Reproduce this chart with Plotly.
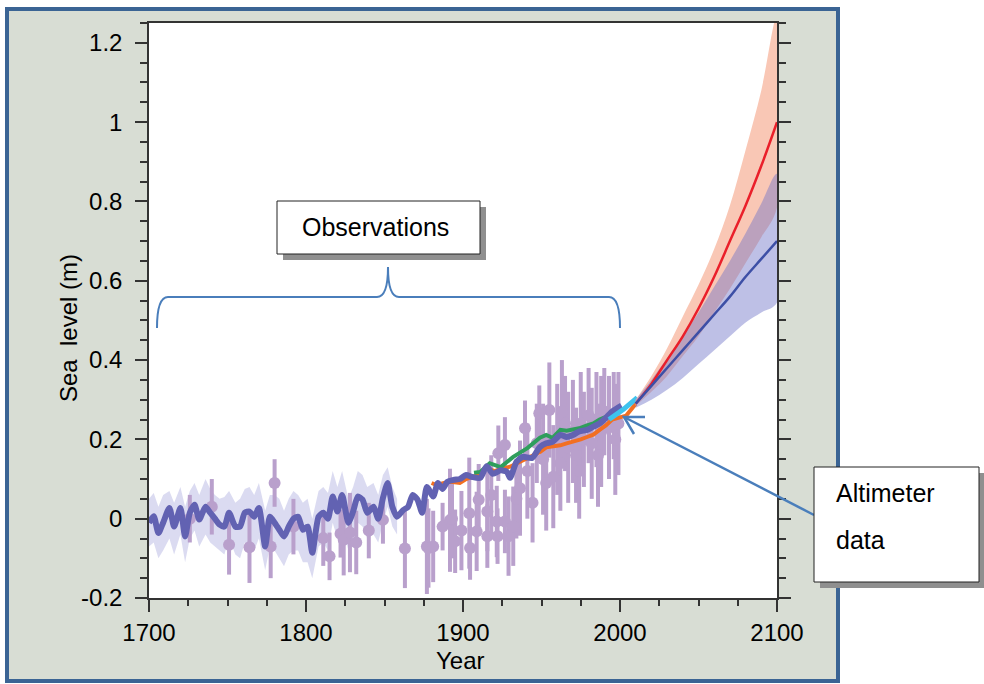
import plotly.graph_objects as go

# ---------------- data ----------------
recon_years = [1700, 1703, 1706, 1709, 1713, 1716, 1720, 1723, 1726, 1729,
               1732, 1736, 1739, 1742, 1745, 1748, 1751, 1755, 1758, 1761,
               1764, 1767, 1770, 1774, 1777, 1780, 1783, 1786, 1789, 1792,
               1795, 1798, 1801, 1804, 1808, 1811, 1814, 1817, 1820, 1823,
               1827, 1830, 1833, 1836, 1839, 1843, 1846, 1849, 1852, 1855,
               1858, 1862, 1865, 1868, 1871, 1874, 1877, 1881, 1884, 1887,
               1890, 1894, 1898, 1902, 1906, 1911, 1915, 1919, 1924, 1928,
               1930, 1934, 1938, 1944, 1949, 1953, 1957, 1962, 1966, 1970,
               1974, 1979, 1983, 1987, 1991, 1995, 2001]
recon_vals = [-0.01, 0.006, -0.036, -0.01, 0.027, -0.02, 0.027, -0.045, 0.015, 0.035,
              -0.002, 0.03, 0.015, 0.0, -0.015, -0.02, 0.015, -0.02, -0.02, 0.015,
              0.018, 0.005, 0.027, -0.07, 0.005, -0.01, -0.028, -0.045, -0.02, 0.0,
              0.005, -0.028, -0.02, -0.086, 0.005, 0.015, 0.0, 0.056, 0.018, 0.06,
              -0.01, 0.018, 0.056, 0.048, 0.015, 0.03, 0.0, 0.052, 0.09, 0.03,
              0.005, 0.022, 0.03, 0.06, 0.048, 0.015, 0.08, 0.056, 0.09, 0.075,
              0.093, 0.098, 0.1, 0.11, 0.105, 0.103, 0.132, 0.113, 0.122, 0.118,
              0.103, 0.143, 0.156, 0.153, 0.181, 0.19, 0.194, 0.211, 0.206, 0.211,
              0.22, 0.224, 0.232, 0.24, 0.254, 0.27, 0.285]

band_years = recon_years[:51]
band_hi = [0.05, 0.065, 0.03, 0.06, 0.07, 0.04, 0.08, 0.03, 0.07, 0.09,
           0.06, 0.1, 0.075, 0.06, 0.05, 0.055, 0.07, 0.04, 0.05, 0.075,
           0.08, 0.06, 0.09, 0.02, 0.06, 0.06, 0.05, 0.02, 0.05, 0.07,
           0.06, 0.04, 0.05, 0.0, 0.07, 0.08, 0.065, 0.12, 0.08, 0.12,
           0.05, 0.08, 0.12, 0.11, 0.08, 0.09, 0.06, 0.11, 0.13, 0.08, 0.05]
band_lo = [-0.07, -0.06, -0.1, -0.08, -0.05, -0.09, -0.04, -0.11, -0.05, -0.03,
           -0.07, -0.04, -0.06, -0.07, -0.08, -0.09, -0.05, -0.09, -0.1, -0.06,
           -0.08, -0.08, -0.05, -0.13, -0.07, -0.08, -0.1, -0.12, -0.09, -0.08,
           -0.08, -0.11, -0.11, -0.15, -0.07, -0.06, -0.08, -0.01, -0.05, -0.01,
           -0.08, -0.05, -0.01, -0.02, -0.05, -0.04, -0.06, -0.01, 0.03, -0.02, -0.04]

obs_years = [1726, 1740, 1751, 1764, 1777.5, 1780, 1792, 1811, 1815, 1822,
             1824, 1828, 1832, 1840, 1849, 1863, 1877, 1878, 1881, 1887,
             1891.7, 1893, 1895, 1899, 1904, 1904.5, 1908.7, 1910, 1915.5, 1915.5,
             1918, 1921.5, 1922, 1922.5, 1926.7, 1926.7, 1929, 1932, 1934, 1936.3,
             1939.5, 1941, 1944.3, 1947, 1948.6, 1951, 1955, 1957.5, 1960, 1962,
             1965, 1967, 1970, 1972, 1975, 1977, 1980, 1982, 1985, 1988,
             1990, 1993, 1996, 1999, 1953, 1963, 1974, 1986, 1997]
obs_vals = [0.0, 0.03, -0.066, -0.072, -0.07, 0.09, -0.02, -0.049, -0.095, -0.038,
            -0.053, -0.035, -0.06, -0.03, -0.003, -0.075, -0.07, -0.074, -0.07, -0.02,
            -0.004, 0.0, -0.057, -0.03, 0.014, -0.074, -0.032, 0.048, 0.018, -0.044,
            0.06, -0.007, -0.044, 0.165, 0.186, -0.007, -0.044, -0.019, 0.05, 0.077,
            0.228, 0.12, 0.04, 0.19, 0.266, 0.15, 0.274, 0.106, 0.2, 0.14,
            0.24, 0.18, 0.22, 0.16, 0.24, 0.2, 0.26, 0.19, 0.25, 0.22,
            0.27, 0.23, 0.26, 0.24, 0.09, 0.27, 0.12, 0.16, 0.2]
obs_errs = [0.06, 0.07, 0.075, 0.09, 0.08, 0.06, 0.07, 0.07, 0.06, 0.06,
            0.09, 0.1, 0.08, 0.07, 0.06, 0.1, 0.12, 0.1, 0.09, 0.06,
            0.13, 0.1, 0.08, 0.1, 0.14, 0.08, 0.1, 0.09, 0.1, 0.08,
            0.1, 0.09, 0.07, 0.07, 0.07, 0.08, 0.1, 0.1, 0.1, 0.12,
            0.07, 0.12, 0.1, 0.1, 0.07, 0.14, 0.12, 0.13, 0.14, 0.12,
            0.12, 0.14, 0.13, 0.12, 0.13, 0.12, 0.12, 0.14, 0.12, 0.14,
            0.11, 0.13, 0.11, 0.13, 0.12, 0.13, 0.12, 0.13, 0.14]

green_years = [1907, 1911, 1917, 1924, 1932, 1941, 1949, 1953, 1957, 1962,
               1966, 1970, 1974, 1979, 1983, 1987, 1991, 1993]
green_vals = [0.116, 0.118, 0.14, 0.13, 0.156, 0.178, 0.204, 0.211, 0.204, 0.224,
              0.222, 0.224, 0.228, 0.235, 0.24, 0.25, 0.257, 0.26]

orange_years = [1880, 1883, 1888, 1892, 1898, 1902, 1906, 1911, 1915, 1920,
                1924, 1930, 1936, 1940, 1945, 1949, 1953, 1958, 1962, 1966,
                1970, 1975, 1979, 1983, 1987, 1991, 1995, 2000, 2004, 2008, 2010]
orange_vals = [0.09, 0.085, 0.09, 0.093, 0.09, 0.1, 0.106, 0.11, 0.128, 0.12,
               0.125, 0.131, 0.143, 0.15, 0.16, 0.168, 0.18, 0.182, 0.185, 0.19,
               0.194, 0.2, 0.206, 0.212, 0.224, 0.235, 0.25, 0.255, 0.26, 0.28, 0.29]

cyan_years = [1993, 1996, 1999, 2002, 2005, 2008, 2011]
cyan_vals = [0.25, 0.258, 0.265, 0.275, 0.285, 0.295, 0.305]

proj_years = [2010, 2020, 2030, 2040, 2050, 2060, 2070, 2080, 2090, 2100]
red_mid = [0.29, 0.34, 0.40, 0.46, 0.53, 0.61, 0.70, 0.79, 0.89, 1.00]
red_hi = [0.30, 0.36, 0.43, 0.51, 0.59, 0.68, 0.79, 0.93, 1.08, 1.27]
red_lo = [0.285, 0.32, 0.36, 0.41, 0.46, 0.52, 0.58, 0.645, 0.71, 0.785]
blue_mid = [0.29, 0.335, 0.38, 0.425, 0.47, 0.515, 0.56, 0.61, 0.655, 0.70]
blue_hi = [0.30, 0.35, 0.405, 0.46, 0.52, 0.585, 0.65, 0.72, 0.795, 0.87]
blue_lo = [0.28, 0.30, 0.325, 0.355, 0.39, 0.425, 0.46, 0.495, 0.52, 0.545]

x_tickvals = [1700, 1800, 1900, 2000, 2100]
y_tickvals = [-0.2, 0, 0.2, 0.4, 0.6, 0.8, 1, 1.2]
y_ticktext = ["-0.2", "0", "0.2", "0.4", "0.6", "0.8", "1", "1.2"]

# ---------------- figure ----------------
FONT = "Arial, Liberation Sans, sans-serif"
fig = go.Figure()

fig.add_trace(go.Scatter(x=band_years + band_years[::-1], y=band_hi + band_lo[::-1],
                         fill="toself", fillcolor="rgba(175,175,225,0.45)",
                         line=dict(width=0), hoverinfo="skip", mode="lines"))
fig.add_trace(go.Scatter(x=obs_years, y=obs_vals, mode="markers",
                         marker=dict(color="#b9a0cc", size=12),
                         error_y=dict(type="data", array=obs_errs, color="#b9a0cc",
                                      thickness=4, width=0)))
fig.add_trace(go.Scatter(x=orange_years, y=orange_vals, mode="lines",
                         line=dict(color="#f26f22", width=4)))
fig.add_trace(go.Scatter(x=green_years, y=green_vals, mode="lines",
                         line=dict(color="#2f9e5c", width=4)))
fig.add_trace(go.Scatter(x=recon_years, y=recon_vals, mode="lines",
                         line=dict(color="#6262b2", width=6, shape="spline", smoothing=0.6)))
fig.add_trace(go.Scatter(x=cyan_years, y=cyan_vals, mode="lines",
                         line=dict(color="#3ec3ee", width=5)))

fig.add_trace(go.Scatter(x=proj_years + proj_years[::-1], y=red_hi + red_lo[::-1],
                         fill="toself", fillcolor="#f9c7b5", line=dict(width=0),
                         line_shape="spline", mode="lines"))
fig.add_trace(go.Scatter(x=proj_years + proj_years[::-1], y=blue_hi + blue_lo[::-1],
                         fill="toself", fillcolor="rgba(110,115,200,0.45)", line=dict(width=0),
                         line_shape="spline", mode="lines"))
fig.add_trace(go.Scatter(x=proj_years, y=red_mid, mode="lines",
                         line=dict(color="#ea1f2a", width=2.5, shape="spline")))
fig.add_trace(go.Scatter(x=proj_years, y=blue_mid, mode="lines",
                         line=dict(color="#3d4fa6", width=2.5, shape="spline")))

# pixel -> paper helpers for decorations
X0, X1, Y0, Y1 = 149, 777, 598, 23
def px(x):
    return (x - X0) / (X1 - X0)
def py(y):
    return (Y0 - y) / (Y0 - Y1)

shapes = [
    dict(type="rect", xref="paper", yref="paper", x0=px(7), x1=px(838), y0=py(681), y1=py(9),
         fillcolor="#d8ddd4", line=dict(color="#3b6494", width=4), layer="below"),
    dict(type="rect", xref="paper", yref="paper", x0=0, x1=1, y0=0, y1=1,
         fillcolor="white", line=dict(width=0), layer="below"),
]

def P(x, y):
    return f"{px(x):.5f},{py(y):.5f}"

bracket = (f"M {P(157,328)} Q {P(157,297)} {P(168,297)} L {P(377,297)} "
           f"Q {P(388,297)} {P(388,267)} Q {P(388,297)} {P(399,297)} "
           f"L {P(609,297)} Q {P(620,297)} {P(620,328)}")
shapes.append(dict(type="path", xref="paper", yref="paper", path=bracket,
                   line=dict(color="#4a7ebb", width=2), layer="above"))
# Observations box
shapes.append(dict(type="rect", xref="paper", yref="paper", x0=px(283), x1=px(486), y0=py(260), y1=py(207),
                   fillcolor="#8f8f8f", line=dict(width=0), layer="above"))
shapes.append(dict(type="rect", xref="paper", yref="paper", x0=px(277), x1=px(480), y0=py(254), y1=py(201),
                   fillcolor="white", line=dict(color="#222", width=1), layer="above"))
# arrow to altimeter data
shapes.append(dict(type="path", xref="paper", yref="paper",
                   path=f"M {P(814,515)} L {P(624,417)}",
                   line=dict(color="#4a7ebb", width=2.5), layer="above"))
shapes.append(dict(type="path", xref="paper", yref="paper",
                   path=f"M {P(645,417)} L {P(624,417)} L {P(634,434)}",
                   line=dict(color="#4a7ebb", width=2.5), layer="above"))
# Altimeter box
shapes.append(dict(type="rect", xref="paper", yref="paper", x0=px(820), x1=px(986), y0=py(588), y1=py(473),
                   fillcolor="#8f8f8f", line=dict(width=0), layer="above"))
shapes.append(dict(type="rect", xref="paper", yref="paper", x0=px(814), x1=px(979), y0=py(582), y1=py(467),
                   fillcolor="white", line=dict(color="#222", width=1), layer="above"))

def label(text, x, y, size, xanchor="center", angle=0):
    return dict(text=text, xref="paper", yref="paper", x=px(x), y=py(y),
                xanchor=xanchor, yanchor="middle", textangle=angle, showarrow=False,
                font=dict(family=FONT, size=size, color="black"))

annotations = [
    label("Observations", 375, 227, 25),
    label("Altimeter", 834, 493, 25, xanchor="left"),
    label("data", 834, 540, 25, xanchor="left"),
    label("Year", 460, 660, 24),
    label("Sea  level (m)", 68, 328, 24, angle=-90),
]

fig.update_layout(
    width=984, height=684,
    margin=dict(l=149, r=207, t=23, b=86),
    paper_bgcolor="white", plot_bgcolor="rgba(0,0,0,0)",
    showlegend=False,
    shapes=shapes, annotations=annotations,
    font=dict(family=FONT, color="black"),
)
fig.update_xaxes(range=[1700, 2100], tickmode="array", tickvals=x_tickvals,
                 ticks="outside", ticklen=12, tickwidth=1.5, tickcolor="#333",
                 showline=True, linecolor="#333", linewidth=1.5, mirror=True,
                 showgrid=False, zeroline=False, tickfont=dict(size=24, family=FONT),
                 minor=dict(tickmode="linear", tick0=1700, dtick=25, ticks="outside",
                            ticklen=6, tickwidth=1.5, tickcolor="#333", showgrid=False))
fig.update_yaxes(range=[-0.2, 1.25], tickmode="array", tickvals=y_tickvals, ticktext=y_ticktext,
                 ticks="outside", ticklen=12, tickwidth=1.5, tickcolor="#333",
                 showline=True, linecolor="#333", linewidth=1.5, mirror="ticks",
                 showgrid=False, zeroline=False, tickfont=dict(size=24, family=FONT),
                 ticklabelstandoff=8,
                 minor=dict(tickmode="linear", tick0=0, dtick=0.05, ticks="outside",
                            ticklen=7, tickwidth=1.5, tickcolor="#333", showgrid=False))

fig.write_html("out.html", config={"displayModeBar": False},
               post_script="document.body.style.margin='0px';")
